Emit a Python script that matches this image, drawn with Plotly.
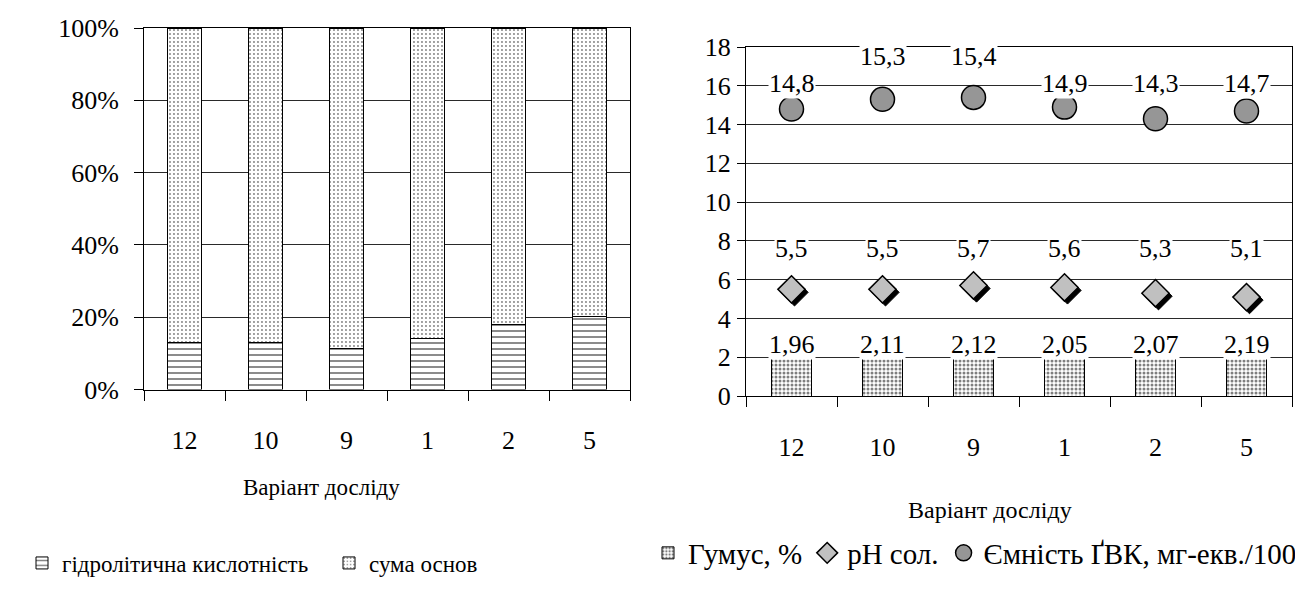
import plotly.graph_objects as go

# ---------------- data ----------------
variants = ["12", "10", "9", "1", "2", "5"]
hydro_acidity = [13.0, 13.0, 11.4, 14.1, 18.1, 20.3]      # % of total
sum_bases = [87.0, 87.0, 88.6, 85.9, 81.9, 79.7]          # % of total
humus = [1.96, 2.11, 2.12, 2.05, 2.07, 2.19]
ph_sol = [5.5, 5.5, 5.7, 5.6, 5.3, 5.1]
capacity = [14.8, 15.3, 15.4, 14.9, 14.3, 14.7]

left_yticks = [0, 20, 40, 60, 80, 100]
left_yticktext = [f"{v}%" for v in left_yticks]
right_yticks = [0, 2, 4, 6, 8, 10, 12, 14, 16, 18]

# ---------------- style ----------------
OFF = 8                      # page body margin
W, H = 1303 - 2 * OFF, 590 - 2 * OFF
FONT = "Times New Roman, Liberation Serif, DejaVu Serif, serif"
TICK_FS = 26
LBL_FS = 26
GRID = "#2a2a2a"

def px_x(p):
    return (p - OFF) / W

def px_y(p):
    return 1 - (p - OFF) / H

def fmt(v, nd):
    return f"{v:.{nd}f}".replace(".", ",")

fig = go.Figure()

# ----- left chart: 100% stacked bars -----
fig.add_trace(go.Bar(
    x=variants, y=hydro_acidity, name="гідролітична кислотність",
    xaxis="x", yaxis="y", width=0.42,
    marker=dict(color="white", line=dict(color="black", width=1),
                pattern=dict(shape="-", fgcolor="black", bgcolor="white",
                             size=6, solidity=0.3)),
    legend="legend",
))
fig.add_trace(go.Bar(
    x=variants, y=sum_bases, name="сума основ",
    xaxis="x", yaxis="y", width=0.42,
    marker=dict(color="white", line=dict(color="black", width=1),
                pattern=dict(shape=".", fgcolor="black", bgcolor="white",
                             size=4, solidity=0.18)),
    legend="legend",
))

# ----- right chart -----
xi = list(range(len(variants)))
fig.add_trace(go.Bar(
    x=xi, y=humus, name="Гумус, %", xaxis="x2", yaxis="y2", width=0.43,
    marker=dict(color="white", line=dict(color="black", width=1),
                pattern=dict(shape=".", fgcolor="black", bgcolor="white",
                             size=4, solidity=0.45)),
    legend="legend2",
))
dx = 3 / 91.0
dy = 3 / 19.4
fig.add_trace(go.Scatter(
    x=[i + dx for i in xi], y=[v - dy for v in ph_sol], mode="markers",
    xaxis="x2", yaxis="y2", showlegend=False, hoverinfo="skip",
    marker=dict(symbol="diamond", size=21, color="black",
                line=dict(color="black", width=1)),
))
fig.add_trace(go.Scatter(
    x=xi, y=ph_sol, mode="markers", name="pH сол.",
    xaxis="x2", yaxis="y2",
    marker=dict(symbol="diamond", size=21, color="#c0c0c0",
                line=dict(color="black", width=1.5)),
    legend="legend2",
))
fig.add_trace(go.Scatter(
    x=xi, y=capacity, mode="markers", name="Ємність ҐВК, мг-екв./100",
    xaxis="x2", yaxis="y2",
    marker=dict(symbol="circle", size=24, color="#969696",
                line=dict(color="black", width=1.5)),
    legend="legend2",
))

# ----- data labels (white boxes break gridlines) -----
lblfont = dict(family=FONT, size=LBL_FS, color="black")
annotations = []
humus_label_y = 2.65
ph_label_y = 7.6
cap_label_y = [16.1, 17.5, 17.5, 16.1, 16.1, 16.1]
for i in xi:
    annotations.append(dict(x=i, y=humus_label_y, xref="x2", yref="y2",
                            text=fmt(humus[i], 2), showarrow=False,
                            bgcolor="white", borderpad=0, font=lblfont))
    annotations.append(dict(x=i, y=ph_label_y, xref="x2", yref="y2",
                            text=fmt(ph_sol[i], 1), showarrow=False,
                            bgcolor="white", borderpad=0, font=lblfont))
    annotations.append(dict(x=i, y=cap_label_y[i], xref="x2", yref="y2",
                            text=fmt(capacity[i], 1), showarrow=False,
                            bgcolor="white", borderpad=0, font=lblfont))

annotations.append(dict(x=px_x(321), y=px_y(487), xref="paper", yref="paper",
                        xanchor="center", yanchor="middle",
                        text="Варіант досліду", showarrow=False,
                        font=dict(family=FONT, size=23, color="black")))
annotations.append(dict(x=px_x(990), y=px_y(510), xref="paper", yref="paper",
                        xanchor="center", yanchor="middle",
                        text="Варіант досліду", showarrow=False,
                        font=dict(family=FONT, size=24, color="black")))

tickfont = dict(family=FONT, size=TICK_FS, color="black")

fig.update_layout(
    width=W, height=H, autosize=False,
    margin=dict(l=0, r=0, t=0, b=0, pad=0, autoexpand=False),
    paper_bgcolor="white", plot_bgcolor="white",
    barmode="stack",
    font=dict(family=FONT, size=TICK_FS, color="black"),
    xaxis=dict(domain=[px_x(144), px_x(630)], type="category",
               tickson="boundaries", ticks="outside", ticklen=10,
               tickcolor="black", showline=True, linecolor="black",
               mirror=True, showgrid=False, tickfont=tickfont,
               ticklabelstandoff=27, anchor="y", automargin=False),
    yaxis=dict(domain=[px_y(389.5), px_y(28)], range=[0, 100],
               tickmode="array", tickvals=left_yticks, ticktext=left_yticktext,
               ticks="outside", ticklen=9, tickcolor="black", showline=True,
               linecolor="black", mirror=True, showgrid=True,
               gridcolor=GRID, gridwidth=1, zeroline=False,
               tickfont=tickfont, ticklabelstandoff=10, anchor="x",
               automargin=False),
    xaxis2=dict(domain=[px_x(746), px_x(1292)], range=[-0.5, 5.5],
                tickmode="array", tickvals=xi, ticktext=variants,
                ticks="outside", ticklen=10, tickcolor="rgba(0,0,0,0)",
                minor=dict(tick0=-0.5, dtick=1, ticks="outside", ticklen=10,
                           tickcolor="black", showgrid=False),
                showline=True, linecolor="black", mirror=True,
                showgrid=False, zeroline=False, tickfont=tickfont,
                ticklabelstandoff=18, anchor="y2", automargin=False),
    yaxis2=dict(domain=[px_y(396), px_y(47)], range=[0, 18],
                tickmode="array", tickvals=right_yticks,
                ticks="outside", ticklen=8,
                tickcolor="black", showline=True, linecolor="black",
                mirror=True, showgrid=True, gridcolor=GRID, gridwidth=1,
                zeroline=False, tickfont=tickfont, ticklabelstandoff=1,
                anchor="x2", automargin=False),
    legend=dict(orientation="h", x=px_x(22), y=px_y(563), xanchor="left",
                yanchor="middle", font=dict(family=FONT, size=23),
                bgcolor="rgba(0,0,0,0)", entrywidth=262, traceorder="normal"),
    legend2=dict(orientation="h", x=px_x(648), y=px_y(553), xanchor="left",
                 yanchor="middle", font=dict(family=FONT, size=29),
                 bgcolor="rgba(0,0,0,0)", traceorder="normal"),
    annotations=annotations,
    showlegend=True,
)

fig.write_html("out.html")
